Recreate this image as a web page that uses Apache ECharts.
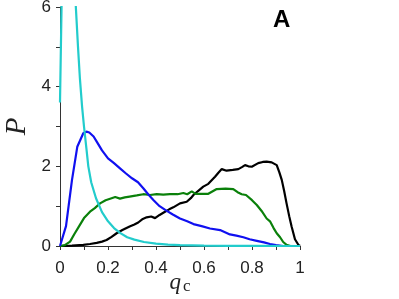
<!DOCTYPE html>
<html><head><meta charset="utf-8">
<script src="https://cdn.jsdelivr.net/npm/echarts@6/dist/echarts.min.js"></script>
<style>html,body{margin:0;padding:0;background:#fff}#c{width:399px;height:299px}</style>
</head><body><div id="c"></div>
<script>
const xTicks = [0, 0.2, 0.4, 0.6, 0.8, 1];
const yTicks = [0, 2, 4, 6];
const panelLabel = 'A';

const cyanData = [[0,3.6],[0.007,6.2],[0.012,12],[0.025,20],[0.04,12],[0.055,8],[0.066,6],[0.075,5],[0.083,4.2],[0.092,3.5],[0.1,3.0],[0.11,2.45],[0.118,2.0],[0.13,1.6],[0.15,1.2],[0.175,0.85],[0.2,0.62],[0.225,0.45],[0.25,0.33],[0.28,0.22],[0.31,0.16],[0.35,0.1],[0.4,0.06],[0.45,0.035],[0.5,0.02],[0.6,0.01],[0.7,0.005],[0.8,0.003],[1,0]];
const blueData = [[0,0],[0.025,0.5],[0.05,1.66],[0.072,2.49],[0.097,2.83],[0.11,2.87],[0.122,2.85],[0.14,2.75],[0.153,2.62],[0.175,2.4],[0.2,2.2],[0.225,2.08],[0.25,1.95],[0.275,1.82],[0.3,1.7],[0.325,1.6],[0.347,1.45],[0.37,1.28],[0.39,1.15],[0.415,1.0],[0.44,0.9],[0.47,0.79],[0.5,0.69],[0.53,0.62],[0.556,0.55],[0.59,0.5],[0.625,0.44],[0.667,0.4],[0.708,0.29],[0.735,0.26],[0.764,0.22],[0.79,0.17],[0.82,0.13],[0.85,0.09],[0.875,0.05],[0.9,0.02],[0.93,0],[1,0]];
const greenData = [[0,0],[0.02,0.02],[0.042,0.11],[0.06,0.3],[0.083,0.53],[0.1,0.7],[0.125,0.86],[0.145,0.95],[0.167,1.07],[0.19,1.15],[0.215,1.2],[0.23,1.23],[0.25,1.19],[0.27,1.22],[0.29,1.24],[0.32,1.27],[0.347,1.3],[0.375,1.28],[0.403,1.3],[0.43,1.29],[0.458,1.3],[0.49,1.3],[0.514,1.33],[0.53,1.3],[0.549,1.37],[0.565,1.31],[0.59,1.31],[0.618,1.31],[0.653,1.43],[0.69,1.44],[0.722,1.43],[0.74,1.35],[0.757,1.3],[0.775,1.28],[0.8,1.15],[0.82,1.03],[0.84,0.88],[0.861,0.69],[0.875,0.62],[0.89,0.45],[0.903,0.32],[0.917,0.22],[0.93,0.1],[0.944,0.03],[0.96,0],[1,0]];
const blackData = [[0,0],[0.05,0.01],[0.097,0.03],[0.125,0.05],[0.153,0.08],[0.175,0.11],[0.194,0.15],[0.215,0.23],[0.236,0.32],[0.26,0.4],[0.29,0.49],[0.31,0.54],[0.326,0.59],[0.345,0.68],[0.361,0.72],[0.38,0.74],[0.396,0.7],[0.415,0.78],[0.4375,0.86],[0.455,0.92],[0.472,0.97],[0.5,1.07],[0.528,1.11],[0.545,1.2],[0.556,1.28],[0.575,1.38],[0.597,1.49],[0.618,1.56],[0.632,1.65],[0.646,1.74],[0.66,1.84],[0.674,1.93],[0.694,1.89],[0.72,1.91],[0.743,1.93],[0.758,1.98],[0.771,2.03],[0.785,2.0],[0.799,1.99],[0.826,2.08],[0.845,2.11],[0.861,2.12],[0.882,2.1],[0.903,2.03],[0.914,1.85],[0.924,1.66],[0.934,1.38],[0.944,1.07],[0.955,0.75],[0.965,0.49],[0.979,0.17],[0.993,0.03],[1,0]];

const chart = echarts.init(document.getElementById('c'), null, {renderer:'canvas'});
const axisCol = '#333';
const lbl = {color:'#222', fontFamily:'Liberation Sans, Arial, sans-serif', fontSize:17};
function line(name, data, color){
  return {name, type:'line', data, showSymbol:false, symbol:'none', clip:true,
    lineStyle:{color, width:2.2}, itemStyle:{color}, z:2, animation:false};
}
chart.setOption({
  animation:false,
  grid:{left:60, right:99, top:7, bottom:53, containLabel:false, outerBoundsMode:'none'},
  title:{text:panelLabel, left:268, top:3, textStyle:{fontFamily:'Liberation Sans, Arial, sans-serif', fontWeight:'bold', fontSize:24, color:'#000'}},
  xAxis:{type:'value', min:0, max:1, interval:0.2,
    axisLine:{lineStyle:{color:axisCol, width:1}},
    axisTick:{length:4, lineStyle:{color:axisCol}},
    minorTick:{show:true, splitNumber:2, length:4, lineStyle:{color:axisCol}},
    splitLine:{show:false},
    axisLabel:Object.assign({margin:14, formatter:v=>xTicks.includes(Math.round(v*10)/10)?String(Math.round(v*10)/10):''}, lbl),
    name:'{q|q}{c|c}', nameLocation:'middle', nameGap:24, nameMoveOverlap:false,
    nameTextStyle:{rich:{q:{fontFamily:'Liberation Serif, Times New Roman, serif', fontStyle:'italic', fontSize:23, color:'#222'},
                          c:{fontFamily:'Liberation Serif, Times New Roman, serif', fontSize:17, color:'#222', padding:[8,0,0,2]}}}
  },
  yAxis:{type:'value', min:0, max:6, interval:2,
    axisLine:{show:true, lineStyle:{color:axisCol, width:1}},
    axisTick:{show:true, length:4, lineStyle:{color:axisCol}},
    minorTick:{show:true, splitNumber:2, length:4, lineStyle:{color:axisCol}},
    splitLine:{show:false},
    axisLabel:Object.assign({margin:9, formatter:v=>yTicks.includes(v)?String(v):''}, lbl),
    name:'P', nameLocation:'middle', nameGap:28, nameRotate:90, nameMoveOverlap:false,
    nameTextStyle:{fontFamily:'Liberation Serif, Times New Roman, serif', fontStyle:'italic', fontSize:29, color:'#222'}
  },
  series:[
    line('black', blackData, '#000000'),
    line('green', greenData, '#0a800a'),
    line('blue', blueData, '#1010f0'),
    line('cyan', cyanData, '#22cccc')
  ]
});
</script></body></html>
